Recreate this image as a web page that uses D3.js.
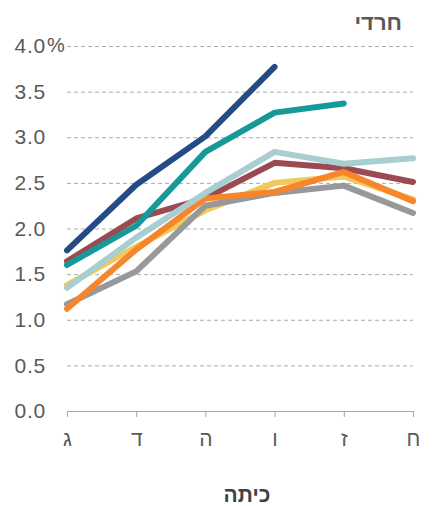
<!DOCTYPE html>
<html>
<head>
<meta charset="utf-8">
<script src="https://cdn.jsdelivr.net/npm/d3@7"></script>
<style>
  body { margin: 0; background: #fff; }
  svg { display: block; font-family: "Liberation Sans", Arial, sans-serif; }
  .grid line { stroke: #ababab; stroke-dasharray: 4 3; }
  .grid .domain { display: none; }
  .ylab text { fill: #595959; font-size: 21px; letter-spacing: 0.8px; }
  .xaxis text { fill: #595959; font-size: 21px; }
  .xaxis line, .xaxis .domain { stroke: #a6a6a6; }
</style>
</head>
<body>
<div id="myDiv"><svg width="432" height="506"></svg></div>
<script>
// grades (x axis)
const grades = ["ג", "ד", "ה", "ו", "ז", "ח"];
const yTicks = [0, 0.5, 1, 1.5, 2, 2.5, 3, 3.5, 4];

// series values, null = no point
const seriesBlue     = [1.76, 2.48, 3.01, 3.77, null, null];
const seriesTeal     = [1.60, 2.03, 2.84, 3.27, 3.37, null];
const seriesMaroon   = [1.64, 2.11, 2.33, 2.72, 2.66, 2.51];
const seriesLight    = [1.35, 1.90, 2.39, 2.84, 2.71, 2.77];
const seriesYellow   = [1.38, 1.80, 2.20, 2.50, 2.57, 2.32];
const seriesOrange   = [1.12, 1.77, 2.33, 2.40, 2.62, 2.30];
const seriesGray     = [1.17, 1.53, 2.25, 2.39, 2.47, 2.17];

// drawing order, bottom to top
const lines = [
    {values: seriesYellow, color: "#f2c85b"},
    {values: seriesGray, color: "#97989c"},
    {values: seriesMaroon, color: "#9c4a52"},
    {values: seriesOrange, color: "#f5862b"},
    {values: seriesLight, color: "#a8ced1"},
    {values: seriesTeal, color: "#17999a"},
    {values: seriesBlue, color: "#234b85"}
];

const svg = d3.select("#myDiv").select("svg");

const x = d3.scalePoint().domain(grades).range([67, 413]);
const y = d3.scaleLinear().domain([0, 4]).range([411, 46]);

// dashed gridlines
svg.append("g")
    .attr("class", "grid")
    .attr("transform", "translate(67,0)")
    .call(d3.axisLeft(y).tickValues(yTicks.filter(function(d) { return d > 0; }))
        .tickSize(-346).tickFormat(""));

// y labels
svg.append("g")
    .attr("class", "ylab")
    .attr("transform", "translate(46,0)")
    .call(d3.axisLeft(y).tickValues(yTicks).tickSize(0).tickPadding(0)
        .tickFormat(d3.format(".1f")))
    .call(function(g) { g.select(".domain").remove(); })
    .selectAll("text")
    .attr("text-anchor", "end");

svg.append("text")
    .attr("x", 47)
    .attr("y", y(4))
    .attr("dy", "0.32em")
    .attr("fill", "#595959")
    .style("font-size", "20px")
    .text("%");

// x axis
svg.append("g")
    .attr("class", "xaxis")
    .attr("transform", "translate(0," + y(0) + ")")
    .call(d3.axisBottom(x).tickSizeOuter(0).tickSize(6).tickPadding(14))
    .selectAll("text")
    .attr("dy", "0.71em");

// lines
const line = d3.line()
    .defined(function(d) { return d != null; })
    .x(function(d, i) { return x(grades[i]); })
    .y(function(d) { return y(d); });

svg.selectAll(".series")
    .data(lines)
    .enter()
    .append("path")
    .attr("class", "series")
    .attr("d", function(d) { return line(d.values); })
    .attr("fill", "none")
    .attr("stroke", function(d) { return d.color; })
    .attr("stroke-width", 6)
    .attr("stroke-linejoin", "round")
    .attr("stroke-linecap", "round");

// titles
svg.append("text")
    .attr("x", 402)
    .attr("y", 30)
    .attr("text-anchor", "end")
    .attr("fill", "#595959")
    .style("font-size", "22px")
    .style("font-weight", "bold")
    .text("חרדי");

svg.append("text")
    .attr("x", 247)
    .attr("y", 502)
    .attr("text-anchor", "middle")
    .attr("fill", "#404040")
    .style("font-size", "21px")
    .style("font-weight", "bold")
    .text("כיתה");
</script>
</body>
</html>
